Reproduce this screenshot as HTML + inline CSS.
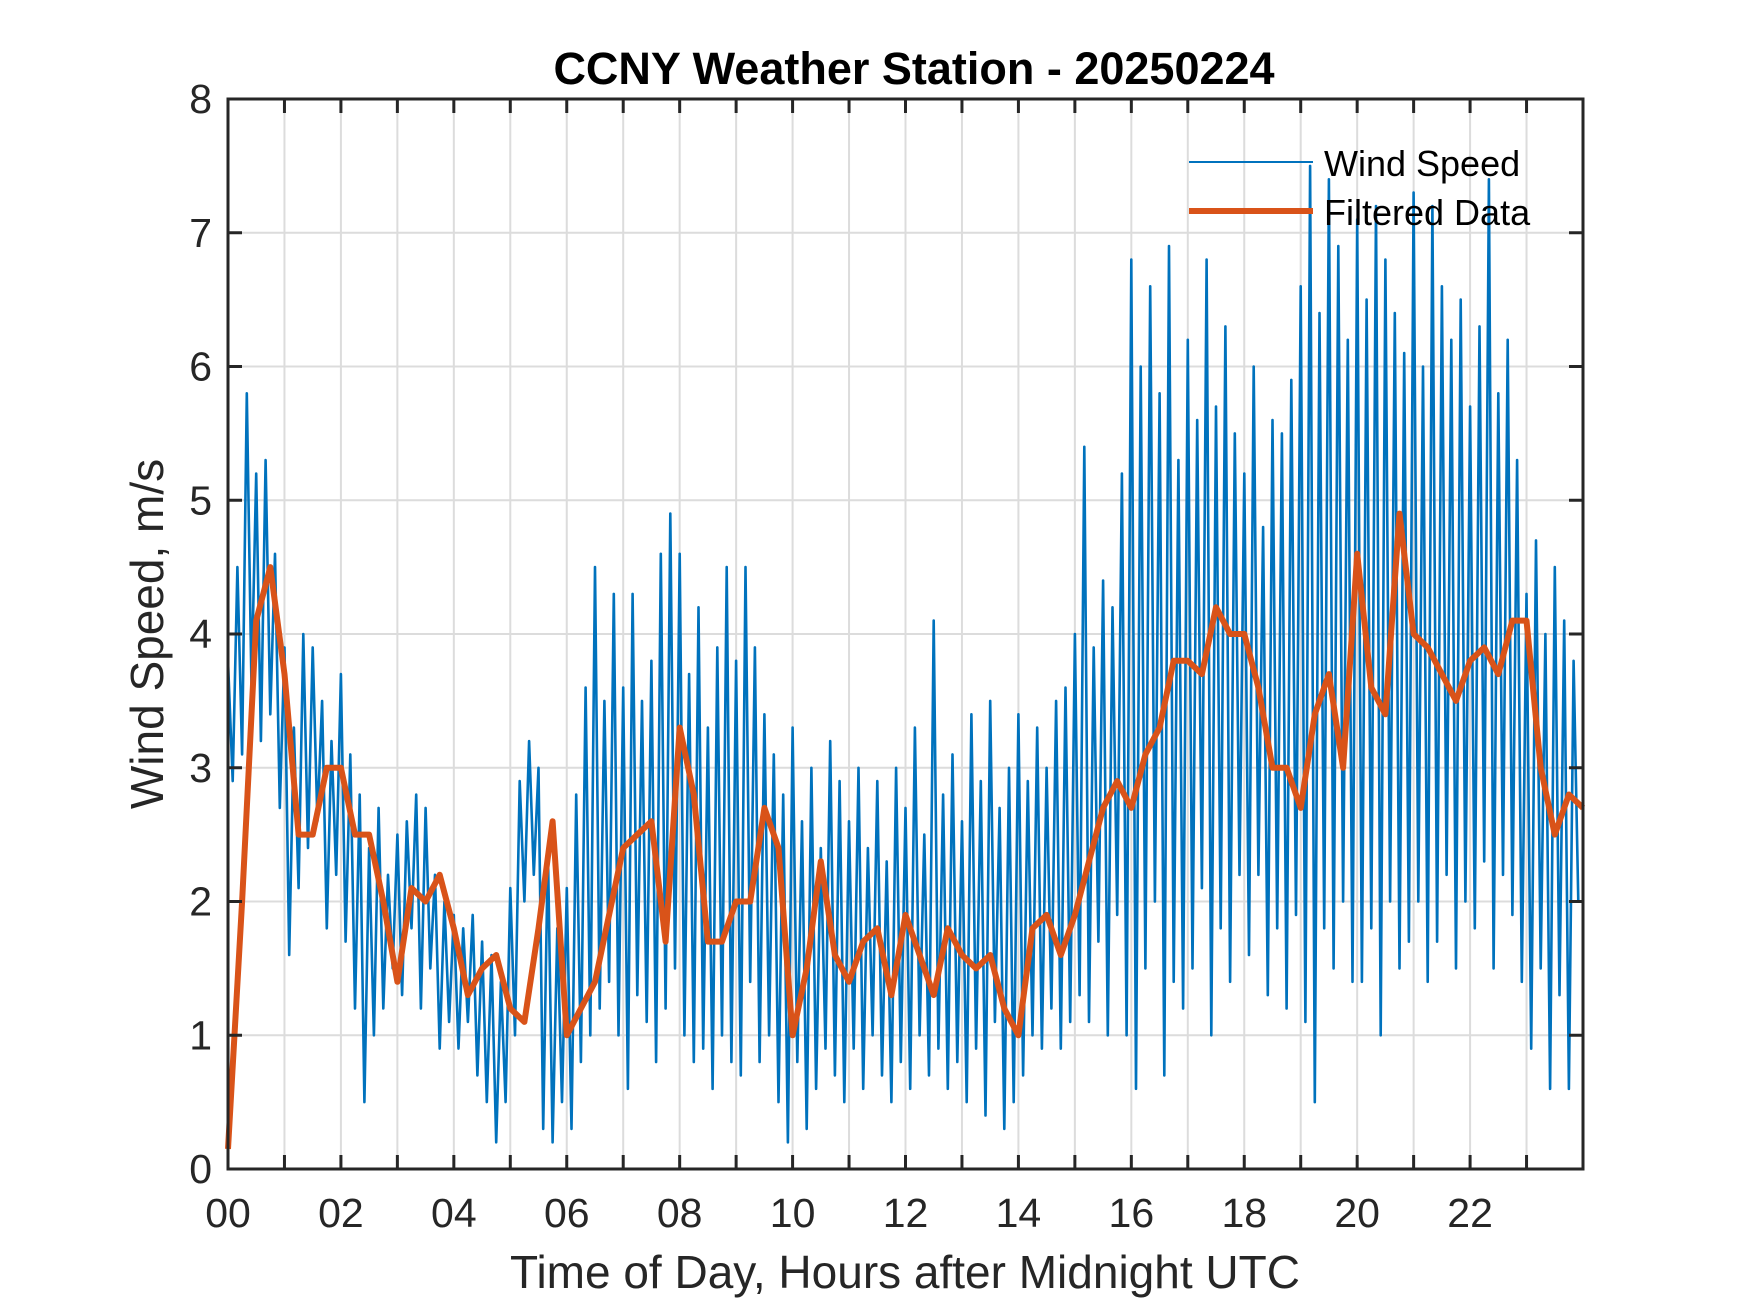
<!DOCTYPE html>
<html><head><meta charset="utf-8"><style>
html,body{margin:0;padding:0;background:#fff;}
svg{display:block;font-family:"Liberation Sans",Arial,sans-serif;}
</style></head><body>
<svg id="chart" width="1750" height="1313" viewBox="0 0 1750 1313" xmlns="http://www.w3.org/2000/svg">
<rect width="1750" height="1313" fill="#fff"/>
<rect x="228" y="99" width="1355" height="1070" fill="#fff"/>
<g id="grid"></g>
<g id="series"></g>
<g id="axes"></g>
<text x="914" y="84" text-anchor="middle" font-size="45" font-weight="bold" fill="#000">CCNY Weather Station - 20250224</text>
<text x="905" y="1288" text-anchor="middle" font-size="46" fill="#262626">Time of Day, Hours after Midnight UTC</text>
<text transform="translate(163,634) rotate(-90)" text-anchor="middle" font-size="46" fill="#262626">Wind Speed, m/s</text>
<g>
<line x1="1189" y1="162" x2="1313" y2="162" stroke="#0072BD" stroke-width="2"/>
<text x="1324" y="176" font-size="36" fill="#000">Wind Speed</text>
<line x1="1189" y1="211" x2="1313" y2="211" stroke="#D95319" stroke-width="6"/>
<text x="1324" y="225" font-size="36" fill="#000">Filtered Data</text>
</g>
</svg>
<script>
const xTickLabels = ["00","02","04","06","08","10","12","14","16","18","20","22"];
const yTickLabels = ["0","1","2","3","4","5","6","7","8"];
const windSpeed = [
3.8,2.9,4.5,3.1,5.8,3.6,5.2,3.2,5.3,3.4,4.6,2.7,
3.9,1.6,3.3,2.1,4.0,2.4,3.9,2.6,3.5,1.8,3.2,2.2,
3.7,1.7,3.1,1.2,2.8,0.5,2.4,1.0,2.7,1.2,2.2,1.5,
2.5,1.3,2.6,1.8,2.8,1.2,2.7,1.5,2.2,0.9,2.0,1.1,
1.9,0.9,1.8,1.1,1.9,0.7,1.7,0.5,1.6,0.2,1.4,0.5,
2.1,1.0,2.9,2.0,3.2,2.2,3.0,0.3,2.4,0.2,1.8,0.5,
2.1,0.3,2.8,0.8,3.6,1.0,4.5,1.2,3.5,1.4,4.3,1.0,
3.6,0.6,4.3,1.3,3.5,1.1,3.8,0.8,4.6,1.2,4.9,1.5,
4.6,1.0,3.7,0.8,4.2,0.9,3.3,0.6,3.9,1.0,4.5,0.8,
3.8,0.7,4.5,1.4,3.9,0.8,3.4,1.0,3.1,0.5,2.8,0.2,
3.3,0.8,2.6,0.3,3.0,0.6,2.4,0.9,3.2,0.7,2.9,0.5,
2.6,0.9,3.0,0.6,2.4,1.0,2.9,0.7,2.3,0.5,3.0,0.8,
2.7,0.6,3.3,1.0,2.5,0.7,4.1,0.9,2.8,0.6,3.1,0.8,
2.6,0.5,3.4,0.9,2.9,0.4,3.5,1.1,2.7,0.3,3.0,0.5,
3.4,0.7,2.9,1.0,3.3,0.9,3.0,1.2,3.5,0.9,3.6,1.1,
4.0,1.3,5.4,1.1,3.9,1.7,4.4,1.0,4.2,1.9,5.2,1.0,
6.8,0.6,6.0,1.5,6.6,2.0,5.8,0.7,6.9,1.4,5.3,1.2,
6.2,1.5,5.6,2.1,6.8,1.0,5.7,1.8,6.3,1.4,5.5,2.2,
5.2,1.6,6.0,2.2,4.8,1.3,5.6,1.8,5.5,1.2,5.9,1.9,
6.6,1.1,7.5,0.5,6.4,1.8,7.4,1.5,6.9,2.0,6.2,1.4,
7.1,1.4,6.5,1.8,7.2,1.0,6.8,2.0,6.4,1.5,6.1,1.7,
7.3,2.0,6.0,1.4,7.2,1.7,6.6,2.2,6.2,1.5,6.5,2.0,
5.7,1.8,6.3,2.3,7.4,1.5,5.8,2.2,6.2,1.9,5.3,1.4,
4.3,0.9,4.7,1.5,4.0,0.6,4.5,1.3,4.1,0.6,3.8,2.0
];
const filteredData = [
0.15,2.0,4.1,4.5,3.7,2.5,2.5,3.0,3.0,2.5,2.5,2.0,
1.4,2.1,2.0,2.2,1.8,1.3,1.5,1.6,1.2,1.1,1.8,2.6,
1.0,1.2,1.4,1.9,2.4,2.5,2.6,1.7,3.3,2.8,1.7,1.7,
2.0,2.0,2.7,2.4,1.0,1.5,2.3,1.6,1.4,1.7,1.8,1.3,
1.9,1.6,1.3,1.8,1.6,1.5,1.6,1.2,1.0,1.8,1.9,1.6,
1.9,2.3,2.7,2.9,2.7,3.1,3.3,3.8,3.8,3.7,4.2,4.0,
4.0,3.6,3.0,3.0,2.7,3.4,3.7,3.0,4.6,3.6,3.4,4.9,
4.0,3.9,3.7,3.5,3.8,3.9,3.7,4.1,4.1,3.0,2.5,2.8,2.7
];
const NS="http://www.w3.org/2000/svg";
const L=228,R=1583,T=99,B=1169,XMAX=24,YMAX=8;
function xs(h){return L+(h/XMAX)*(R-L);}
function ys(v){return B-(v/YMAX)*(B-T);}
function mk(tag,attrs,parent){const e=document.createElementNS(NS,tag);for(const k in attrs)e.setAttribute(k,attrs[k]);parent.appendChild(e);return e;}
const grid=document.getElementById('grid'),axes=document.getElementById('axes'),series=document.getElementById('series');
for(let h=1;h<XMAX;h++){
  const g=mk('line',{x1:xs(h),x2:xs(h),y1:T,y2:B,stroke:'#dcdcdc','stroke-width':2},grid);
  
  
  const t1=mk('line',{x1:xs(h),x2:xs(h),y1:B,y2:B-14,stroke:'#262626','stroke-width':3},axes);
  
  
  const t2=mk('line',{x1:xs(h),x2:xs(h),y1:T,y2:T+14,stroke:'#262626','stroke-width':3},axes);
  
  
}
for(let v=1;v<YMAX;v++){
  const g=mk('line',{x1:L,x2:R,y1:ys(v),y2:ys(v),stroke:'#dcdcdc','stroke-width':2},grid);
  
  
  const t1=mk('line',{x1:L,x2:L+14,y1:ys(v),y2:ys(v),stroke:'#262626','stroke-width':3},axes);
  
  
  const t2=mk('line',{x1:R,x2:R-14,y1:ys(v),y2:ys(v),stroke:'#262626','stroke-width':3},axes);
  
  
}
const box=mk('rect',{x:L,y:T,width:R-L,height:B-T,fill:'none',stroke:'#262626','stroke-width':3},axes);


xTickLabels.forEach((s,i)=>{
  const t=mk('text',{x:xs(i*2),y:1227,'text-anchor':'middle','font-size':41,fill:'#262626'},axes);
  t.textContent=s;
  
  
});
yTickLabels.forEach((s,i)=>{
  const t=mk('text',{x:212,y:ys(i)+14,'text-anchor':'end','font-size':41,fill:'#262626'},axes);
  t.textContent=s;
  
  
});
const wp=windSpeed.map((v,i)=>xs(i*XMAX/windSpeed.length).toFixed(1)+','+ys(v).toFixed(1)).join(' ');
const w=mk('polyline',{points:wp,fill:'none',stroke:'#0072BD','stroke-width':2.6,'stroke-linejoin':'round'},series);


const fp=filteredData.map((v,i)=>xs(i*XMAX/(filteredData.length-1)).toFixed(1)+','+ys(v).toFixed(1)).join(' ');
const f=mk('polyline',{points:fp,fill:'none',stroke:'#D95319','stroke-width':6,'stroke-linejoin':'round'},series);


</script>
</body></html>
